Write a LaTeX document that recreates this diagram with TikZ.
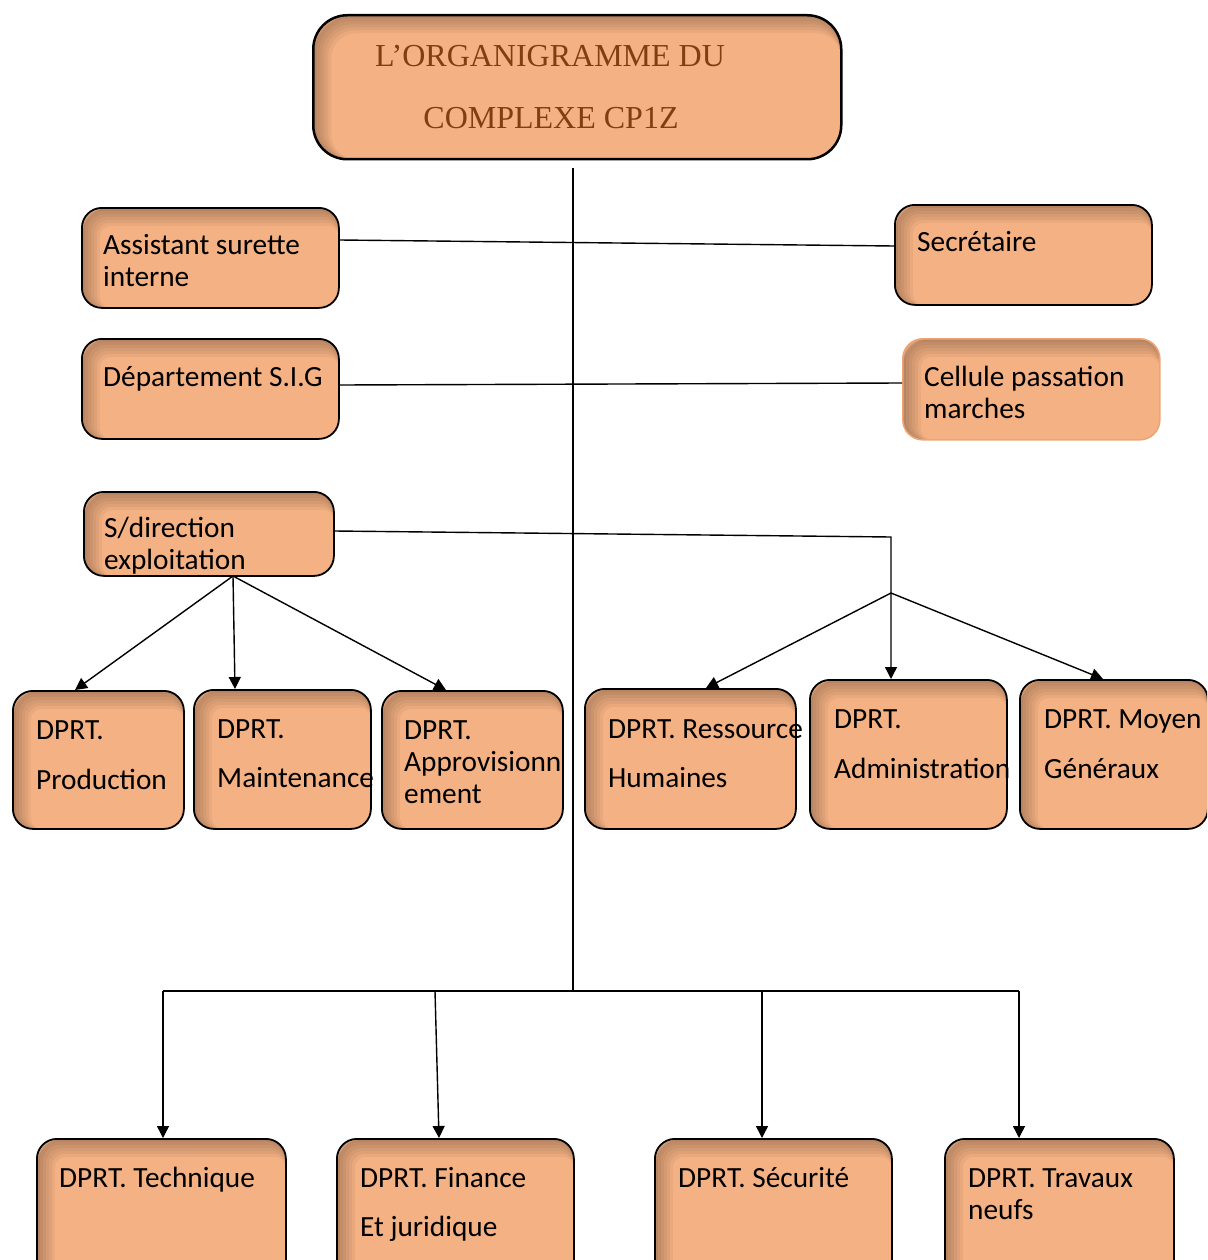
\documentclass[tikz,border=0pt]{standalone}
\usepackage{fontspec}
\setmainfont{Carlito}
\newfontfamily\titlefont{Liberation Serif}
\usetikzlibrary{arrows.meta}
\definecolor{boxfill}{RGB}{244,177,131}
\definecolor{titlebrown}{RGB}{128,62,18}
\definecolor{cellborder}{RGB}{238,165,118}
\tikzset{
  innershadow/.style={path picture={
    \foreach \w in {18,15,12,9,6,3}{
      \draw[black, opacity=0.045, line width=\w pt, rounded corners=#1]
        ([shift={(\w pt/2,-\w pt/2)}]path picture bounding box.north west) rectangle
        ([shift={(\w pt/2,-\w pt/2)}]path picture bounding box.south east);
    }}},
  orgbox/.style={draw=black, line width=1.8pt, fill=boxfill, rounded corners=20pt,
    inner sep=0pt, anchor=north west, innershadow=20pt},
  lbl/.style={font=\fontsize{29.3}{33}\selectfont, anchor=base west, inner sep=0pt},
  ttl/.style={font=\titlefont\fontsize{32}{36}\selectfont, text=titlebrown, anchor=base, inner sep=0pt},
  conn/.style={line width=1.4pt, draw=black},
  arr/.style={conn, -{Triangle[width=12pt,length=12pt]}},
}
\begin{document}
\begin{tikzpicture}[x=1pt,y=-1pt]
\useasboundingbox (0,0) rectangle (1207,1260);
\clip (0,0) rectangle (1207,1260);

% boxes
\node[orgbox, line width=2.5pt, rounded corners=34pt, innershadow=34pt, minimum width=528pt, minimum height=144pt] (title) at (312,14) {};
\node[orgbox, minimum width=257pt, minimum height=100pt] (asst) at (81,207) {};
\node[orgbox, minimum width=257pt, minimum height=100pt] (secr) at (894,204) {};
\node[orgbox, minimum width=257pt, minimum height=100pt] (sig) at (81,338) {};
\node[orgbox, draw=cellborder, line width=1.6pt, minimum width=257pt, minimum height=101pt] (cell) at (902,338) {};
\node[orgbox, minimum width=250pt, minimum height=84pt] (sdir) at (83,491) {};
\node[orgbox, minimum width=171pt, minimum height=138pt] (prod) at (12,690) {};
\node[orgbox, minimum width=177pt, minimum height=139pt] (maint) at (193,689) {};
\node[orgbox, minimum width=181pt, minimum height=138pt] (appro) at (381,690) {};
\node[orgbox, minimum width=211pt, minimum height=140pt] (rh) at (584,688) {};
\node[orgbox, minimum width=197pt, minimum height=149pt] (adm) at (809,679) {};
\node[orgbox, minimum width=188pt, minimum height=149pt] (moy) at (1019,679) {};
\node[orgbox, minimum width=249pt, minimum height=150pt] (tech) at (36,1138) {};
\node[orgbox, minimum width=237pt, minimum height=150pt] (fin) at (336,1138) {};
\node[orgbox, minimum width=237pt, minimum height=150pt] (secu) at (654,1138) {};
\node[orgbox, minimum width=229pt, minimum height=150pt] (trav) at (944,1138) {};

% connectors
\coordinate (vtop) at (573,168);
\coordinate (vbot) at (573,991);
\draw[conn] (vtop) -- (vbot);
\draw[conn] (asst.east |- 0,240) -- (secr.west |- 0,246);
\draw[conn] (sig.east |- 0,385) -- (cell.west |- 0,383);

\coordinate (jr) at (891,537);
\coordinate (js) at (891,593);
\draw[arr] (sdir.east |- 0,531) -- (jr) -- (adm.north -| jr);
\draw[arr] (js) -- (rh.north -| 706,0);
\draw[arr] (js) -- (moy.north -| 1103,0);

\coordinate (sd) at (233,576);
\draw[arr] (sd) -- (prod.north -| 75,0);
\draw[arr] (sd) -- (maint.north -| 235,0);
\draw[arr] (sd) -- (appro.north -| 446,0);

\coordinate (hb1) at (163,991);
\coordinate (hb2) at (1019,991);
\coordinate (hb3) at (435,991);
\coordinate (hb4) at (762,991);
\draw[conn] (hb1) -- (hb2);
\draw[arr] (hb1) -- (tech.north -| hb1);
\draw[arr] (hb3) -- (fin.north -| 439,0);
\draw[arr] (hb4) -- (secu.north -| hb4);
\draw[arr] (hb2) -- (trav.north -| hb2);

% texts
\node[ttl] (t1) at (550,67) {L’ORGANIGRAMME DU};
\node[ttl] (t2) at (551,129) {COMPLEXE CP1Z};
\node[lbl] (a1) at (103,254) {Assistant surette};
\node[lbl] (a2) at (103,286) {interne};
\node[lbl] (s1) at (917,251) {Secrétaire};
\node[lbl] (g1) at (103,386) {Département S.I.G};
\node[lbl] (c1) at (924,386) {Cellule passation};
\node[lbl] (c2) at (924,418) {marches};
\node[lbl] (d1) at (104,537) {S/direction};
\node[lbl] (d2) at (104,569) {exploitation};
\node[lbl] (p1) at (36,739) {DPRT.};
\node[lbl] (p2) at (36,789) {Production};
\node[lbl] (m1) at (217,738) {DPRT.};
\node[lbl] (m2) at (217,787) {Maintenance};
\node[lbl] (ap1) at (404,739) {DPRT.};
\node[lbl] (ap2) at (404,771) {Approvisionn};
\node[lbl] (ap3) at (404,803) {ement};
\node[lbl] (r1) at (608,738) {DPRT. Ressource};
\node[lbl] (r2) at (608,787) {Humaines};
\node[lbl] (ad1) at (834,728) {DPRT.};
\node[lbl] (ad2) at (834,778) {Administration};
\node[lbl] (mo1) at (1044,728) {DPRT. Moyen};
\node[lbl] (mo2) at (1044,778) {Généraux};
\node[lbl] (te1) at (59,1187) {DPRT. Technique};
\node[lbl] (f1) at (360,1187) {DPRT. Finance};
\node[lbl] (f2) at (360,1236) {Et juridique};
\node[lbl] (se1) at (678,1187) {DPRT. Sécurité};
\node[lbl] (tr1) at (968,1187) {DPRT. Travaux};
\node[lbl] (tr2) at (968,1219) {neufs};
\end{tikzpicture}
\end{document}
